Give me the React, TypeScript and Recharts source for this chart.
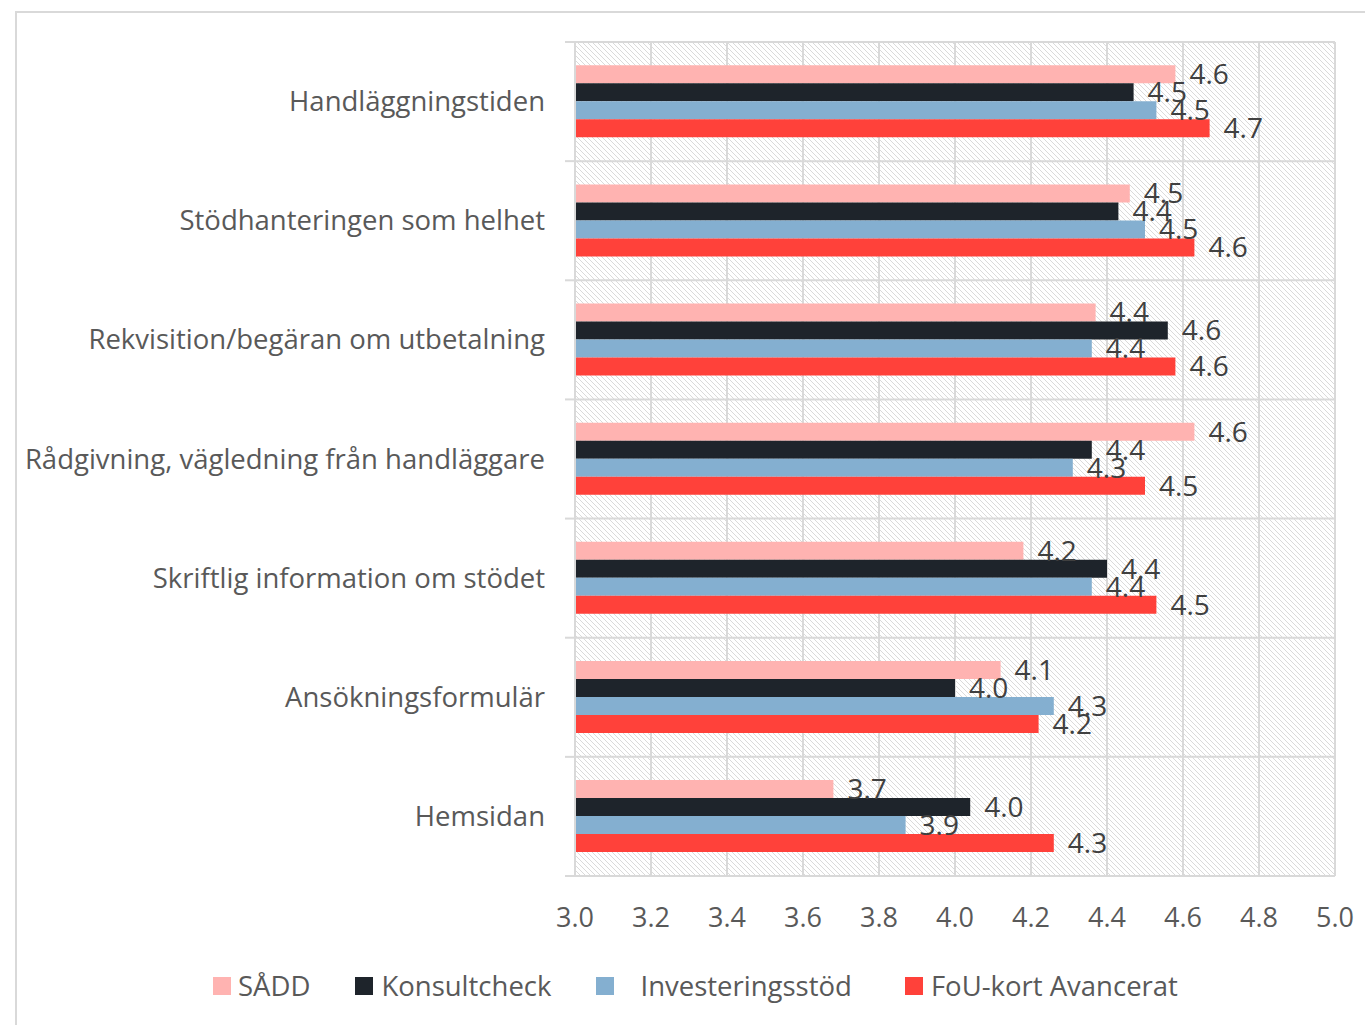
import { BarChart, Bar, XAxis, YAxis, CartesianGrid, LabelList } from 'recharts'

const categories = [
  'Handläggningstiden',
  'Stödhanteringen som helhet',
  'Rekvisition/begäran om utbetalning',
  'Rådgivning, vägledning från handläggare',
  'Skriftlig information om stödet',
  'Ansökningsformulär',
  'Hemsidan',
]

const sadd = [4.58, 4.46, 4.37, 4.63, 4.18, 4.12, 3.68]
const konsultcheck = [4.47, 4.43, 4.56, 4.36, 4.4, 4.0, 4.04]
const investeringsstod = [4.53, 4.5, 4.36, 4.31, 4.36, 4.26, 3.87]
const fouKort = [4.67, 4.63, 4.58, 4.5, 4.53, 4.22, 4.26]

const xTicks = [3.0, 3.2, 3.4, 3.6, 3.8, 4.0, 4.2, 4.4, 4.6, 4.8, 5.0]

const series = [
  { key: 'sadd', name: 'SÅDD', color: '#FFB3B1' },
  { key: 'konsultcheck', name: 'Konsultcheck', color: '#1E242B' },
  { key: 'investeringsstod', name: 'Investeringsstöd', color: '#84AFD0' },
  { key: 'fouKort', name: 'FoU-kort Avancerat', color: '#FF413A' },
]

const data = categories.map((name, i) => ({
  name,
  sadd: sadd[i],
  konsultcheck: konsultcheck[i],
  investeringsstod: investeringsstod[i],
  fouKort: fouKort[i],
}))

const FONT = '"Open Sans", "Noto Sans", sans-serif'
const CHART_W = 1365
const CHART_H = 1025
const MARGIN = { top: 42, right: 30, left: 0, bottom: 89 }
const X_AXIS_H = 60
const PLOT_H = CHART_H - MARGIN.top - MARGIN.bottom - X_AXIS_H
const BAND = PLOT_H / categories.length

// horizontal grid lines sit on the category boundaries, like Excel
const boundaryLines = ({ offset }: any) => {
  const step = offset.height / categories.length
  return categories.map((_, i) => offset.top + i * step).concat(offset.top + offset.height)
}

// category label plus the little boundary tick marks left of the axis
function CategoryTick(props: any) {
  const { x, y, payload, index } = props
  const axisX = x + 30
  return (
    <g>
      <line x1={axisX - 10} x2={axisX} y1={y - BAND / 2} y2={y - BAND / 2} stroke="#d9d9d9" strokeWidth={2} />
      {index === categories.length - 1 && (
        <line x1={axisX - 10} x2={axisX} y1={y + BAND / 2} y2={y + BAND / 2} stroke="#d9d9d9" strokeWidth={2} />
      )}
      <text x={x} y={y} dy="0.35em" textAnchor="end" fontSize={27.5} fill="#595959" fontFamily={FONT}>
        {payload.value}
      </text>
    </g>
  )
}

function ChartLegend() {
  // Excel leaves an odd extra gap before Investeringsstöd
  const gaps = [0, 45, 45, 53]
  const textGaps = [7, 8, 26, 8]
  return (
    <div
      style={{
        position: 'absolute',
        left: 213,
        top: 967,
        display: 'flex',
        alignItems: 'center',
        fontFamily: FONT,
        fontSize: 27.5,
        color: '#595959',
      }}
    >
      {series.map((s, i) => (
        <div key={s.key} style={{ display: 'flex', alignItems: 'center', marginLeft: gaps[i] }}>
          <span style={{ width: 18, height: 18, background: s.color, display: 'inline-block' }} />
          <span style={{ marginLeft: textGaps[i] }}>{s.name}</span>
        </div>
      ))}
    </div>
  )
}

export default function App() {
  return (
    <div style={{ position: 'absolute', left: 0, top: 0, width: CHART_W, height: CHART_H, background: '#fff', overflow: 'hidden' }}>
      <svg width={0} height={0} style={{ position: 'absolute' }}>
        <defs>
          <pattern id="hatch" patternUnits="userSpaceOnUse" width={5} height={5}>
            <path d="M0,0 L5,5 M-1,4 L1,6 M4,-1 L6,1" stroke="#d6d6d6" strokeWidth={0.9} />
          </pattern>
        </defs>
      </svg>
      <div
        style={{
          position: 'absolute',
          left: 15,
          top: 11,
          right: 0,
          bottom: 0,
          borderTop: '2px solid #d9d9d9',
          borderLeft: '2px solid #d9d9d9',
        }}
      />
      <div style={{ position: 'absolute', left: 0, top: 0 }}>
        <BarChart
          width={CHART_W}
          height={CHART_H}
          data={data}
          layout="vertical"
          margin={MARGIN}
          barCategoryGap="19.5%"
          barGap={0}
        >
          <CartesianGrid
            stroke="#d9d9d9"
            strokeWidth={2}
            fill="url(#hatch)"
            fillOpacity={1}
            horizontalCoordinatesGenerator={boundaryLines}
          />
          <XAxis
            type="number"
            domain={[3, 5]}
            ticks={xTicks}
            tickFormatter={(v) => Number(v).toFixed(1)}
            tick={{ fontSize: 27, fill: '#595959', fontFamily: FONT }}
            tickLine={false}
            axisLine={{ stroke: '#d9d9d9', strokeWidth: 2 }}
            tickMargin={26}
            height={X_AXIS_H}
          />
          <YAxis
            type="category"
            dataKey="name"
            width={575}
            tickLine={false}
            axisLine={{ stroke: '#d9d9d9', strokeWidth: 2 }}
            tickMargin={24}
            tick={<CategoryTick />}
          />
          {series.map((s) => (
            <Bar key={s.key} dataKey={s.key} name={s.name} fill={s.color} isAnimationActive={false}>
              <LabelList
                dataKey={s.key}
                position="right"
                offset={14}
                formatter={(v: any) => Number(v).toFixed(1)}
                style={{ fontSize: 28, fill: '#404040', fontFamily: FONT }}
              />
            </Bar>
          ))}
        </BarChart>
      </div>
      <ChartLegend />
    </div>
  )
}
